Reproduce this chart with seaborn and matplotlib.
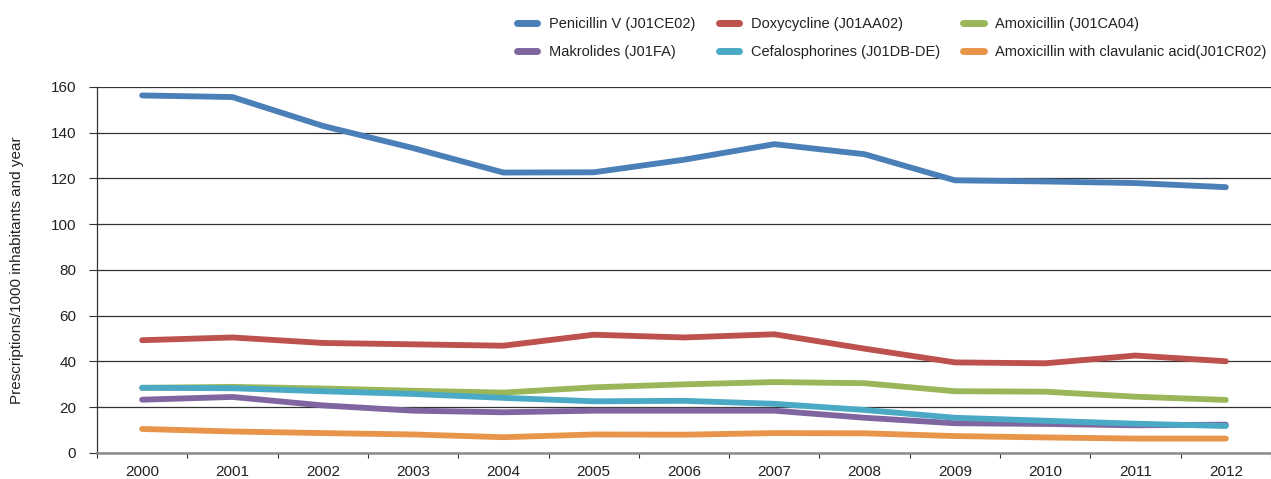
import matplotlib
matplotlib.use("Agg")
import matplotlib.pyplot as plt
from matplotlib.ticker import MultipleLocator, FixedLocator
import seaborn as sns
import pandas as pd

years = list(range(2000, 2013))

penicillin = [156.3, 155.6, 143.0, 133.3, 122.6, 122.7, 128.2, 135.0, 130.6, 119.2, 118.7, 118.0, 116.2]
doxycycline = [49.3, 50.5, 48.1, 47.5, 46.9, 51.7, 50.5, 51.9, 45.6, 39.6, 39.2, 42.6, 40.1]
amoxicillin = [28.5, 28.9, 28.2, 27.2, 26.4, 28.7, 30.0, 31.0, 30.5, 27.0, 26.8, 24.6, 23.2]
makrolides = [23.3, 24.5, 20.8, 18.5, 17.8, 18.5, 18.5, 18.5, 15.4, 13.0, 12.7, 12.1, 12.4]
cefalosporines = [28.5, 28.3, 27.0, 25.8, 24.1, 22.6, 22.8, 21.5, 18.8, 15.4, 14.1, 12.8, 11.8]
amox_clav = [10.5, 9.4, 8.7, 8.1, 6.9, 8.1, 8.0, 8.7, 8.6, 7.4, 6.8, 6.3, 6.3]

series_names = [
    "Penicillin V (J01CE02)",
    "Doxycycline (J01AA02)",
    "Amoxicillin (J01CA04)",
    "Makrolides (J01FA)",
    "Cefalosphorines (J01DB-DE)",
    "Amoxicillin with clavulanic acid(J01CR02)",
]
series_values = [penicillin, doxycycline, amoxicillin, makrolides, cefalosporines, amox_clav]
colors = ["#4a7fb8", "#bd514d", "#99b758", "#7f66a0", "#4aa9c4", "#e8944a"]

rows = []
for name, vals in zip(series_names, series_values):
    for yr, v in zip(years, vals):
        rows.append({"year": yr, "value": v, "series": name})
df = pd.DataFrame(rows)

sns.set_style("white")
plt.rcParams["font.family"] = ["Liberation Sans", "DejaVu Sans"]

fig = plt.figure(figsize=(12.71, 4.79), dpi=100)
ax = fig.add_axes([0.0763, 0.0543, 0.9237, 0.7641])

sns.lineplot(data=df, x="year", y="value", hue="series", hue_order=series_names,
             palette=colors, linewidth=4.2, ax=ax, legend=False,
             solid_capstyle="round", solid_joinstyle="round")

ax.set_xlim(1999.5, 2012.5)
ax.set_ylim(0, 160)
ax.yaxis.set_major_locator(MultipleLocator(20))
ax.xaxis.set_major_locator(FixedLocator(years))
ax.xaxis.set_minor_locator(FixedLocator([y - 0.5 for y in years] + [2012.5]))
ax.set_xticklabels([str(y) for y in years])

ax.grid(axis="y", color="#333333", linewidth=0.9)
ax.set_axisbelow(True)
for s in ["top", "right"]:
    ax.spines[s].set_visible(False)
ax.spines["left"].set_color("#333333")
ax.spines["left"].set_linewidth(0.9)
ax.spines["bottom"].set_color("#8a8a8a")
ax.spines["bottom"].set_linewidth(1.8)

ax.tick_params(axis="y", which="major", length=6, width=0.8, color="#333333",
               labelsize=11, pad=9, labelcolor="#222222", left=True)
ax.tick_params(axis="x", which="major", length=0, labelsize=11, pad=9, labelcolor="#222222")
ax.tick_params(axis="x", which="minor", length=3.5, width=0.8, color="#333333", bottom=True)

ax.set_xlabel("")
ax.set_ylabel("Prescriptions/1000 inhabitants and year", fontsize=11, color="#222222")
ax.yaxis.set_label_coords(-0.062, 0.5)

# legend: entries in row order, matplotlib fills column-wise
handles = [plt.Line2D([], [], color=c, linewidth=5, solid_capstyle="round") for c in colors]
order = [0, 3, 1, 4, 2, 5]
fig.legend([handles[i] for i in order], [series_names[i] for i in order],
           ncol=3, loc="upper right", bbox_to_anchor=(1.007, 0.992), frameon=False,
           fontsize=10.5, handlelength=1.4, handletextpad=0.8, columnspacing=1.6,
           labelspacing=0.95, labelcolor="#222222")

fig.savefig("out.png", dpi=100)
